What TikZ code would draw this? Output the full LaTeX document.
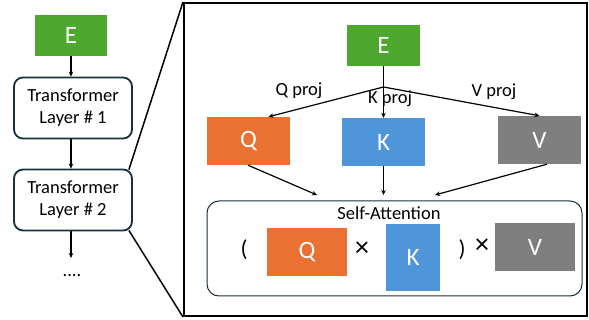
\documentclass[tikz,border=0pt]{standalone}
\usepackage{fontspec}
\setmainfont{Carlito}
\usetikzlibrary{arrows.meta}
\definecolor{cgreen}{HTML}{4EA72E}
\definecolor{corange}{HTML}{E97132}
\definecolor{cblue}{HTML}{4E95D9}
\definecolor{cgray}{HTML}{7F7F7F}
\definecolor{cline}{HTML}{15303F}
\begin{document}
\begin{tikzpicture}[x=1pt,y=-1pt,
  fill box/.style={draw=none,inner sep=0pt,text=white,font=\fontsize{25}{28}\selectfont},
  layerbox/.style={draw=cline,line width=1.8pt,rounded corners=9pt,minimum width=118pt,minimum height=61pt,inner sep=0pt,align=center,font=\fontsize{18.5}{22}\selectfont},
  lbl/.style={font=\fontsize{18.5}{22}\selectfont,inner sep=0pt},
  arr/.style={line width=1.2pt,-{Stealth[length=5pt,width=4.5pt]}},
  conn/.style={line width=1.5pt}]
\useasboundingbox (0,0) rectangle (589,320);
% left column
\node[fill box,fill=cgreen,minimum width=72pt,minimum height=41pt] (e1) at (71,35.5) {E};
\node[layerbox] (tl1) at (73,108) {Transformer\\Layer \# 1};
\node[layerbox] (tl2) at (73,200) {Transformer\\Layer \# 2};
\node[lbl,anchor=base] (dots) at (72,277) {....};
\coordinate (below2) at (71,258);
\draw[arr] (e1.south) -- (e1.south |- tl1.north);
\draw[arr] ([xshift=-2pt]tl1.south) -- ([xshift=-2pt]tl2.north);
\draw[arr] ([xshift=-2pt]tl2.south) -- (below2);
% big box
\node[draw,line width=2pt,minimum width=403pt,minimum height=313pt,inner sep=0pt] (big) at (385.5,159.5) {};
\draw[conn] ([xshift=-4pt,yshift=-1pt]tl2.north east) -- (big.north west);
\draw[conn] ([xshift=-4pt,yshift=1pt]tl2.south east) -- (big.south west);
% inner
\node[fill box,fill=cgreen,minimum width=73pt,minimum height=41pt] (e2) at (383.5,45.5) {E};
\node[fill box,fill=corange,minimum width=83pt,minimum height=48pt] (q) at (248.5,141) {Q};
\node[fill box,fill=cblue,minimum width=83pt,minimum height=48pt] (k) at (383.5,142) {K};
\node[fill box,fill=cgray,minimum width=83pt,minimum height=48pt] (v) at (539.5,140) {V};
\coordinate (br) at (383.5,87);
\draw[line width=1.2pt] (e2.south) -- (br);
\draw[arr] (br) -- ([xshift=20pt]q.north);
\draw[arr] (br) -- (k.north);
\draw[arr] (br) -- (v.north);
\node[lbl] (qp) at (299,91) {Q proj};
\node[lbl] (kp) at (390,99) {K proj};
\node[lbl] (vp) at (494,92) {V proj};
% self-attention
\node[draw=cline,line width=1pt,rounded corners=12pt,minimum width=375pt,minimum height=95pt,inner sep=0pt] (sa) at (394.5,248.5) {};
\node[lbl] (sat) at (389,213) {Self-Attention};
\coordinate (a1) at (317,195);
\coordinate (a2) at (383.5,195);
\coordinate (a3) at (435,195);
\draw[arr] ([xshift=-0.5pt]q.south) -- (a1);
\draw[arr] (k.south) -- (a2);
\draw[arr] ([xshift=7.5pt]v.south) -- (a3);
\node[lbl,font=\fontsize{23}{26}\selectfont] (lp) at (244,250) {(};
\node[fill box,fill=corange,minimum width=80pt,minimum height=48pt] (q2) at (307,252) {Q};
\node[lbl,font=\fontsize{28}{30}\selectfont] (x1) at (362,249) {×};
\node[fill box,fill=cblue,minimum width=54pt,minimum height=67pt] (k2) at (413,257.5) {K};
\node[lbl,font=\fontsize{23}{26}\selectfont] (rp) at (462,250) {)};
\node[lbl,font=\fontsize{28}{30}\selectfont] (x2) at (482,246) {×};
\node[fill box,fill=cgray,minimum width=80pt,minimum height=48pt] (v2) at (535,247) {V};
\end{tikzpicture}
\end{document}
